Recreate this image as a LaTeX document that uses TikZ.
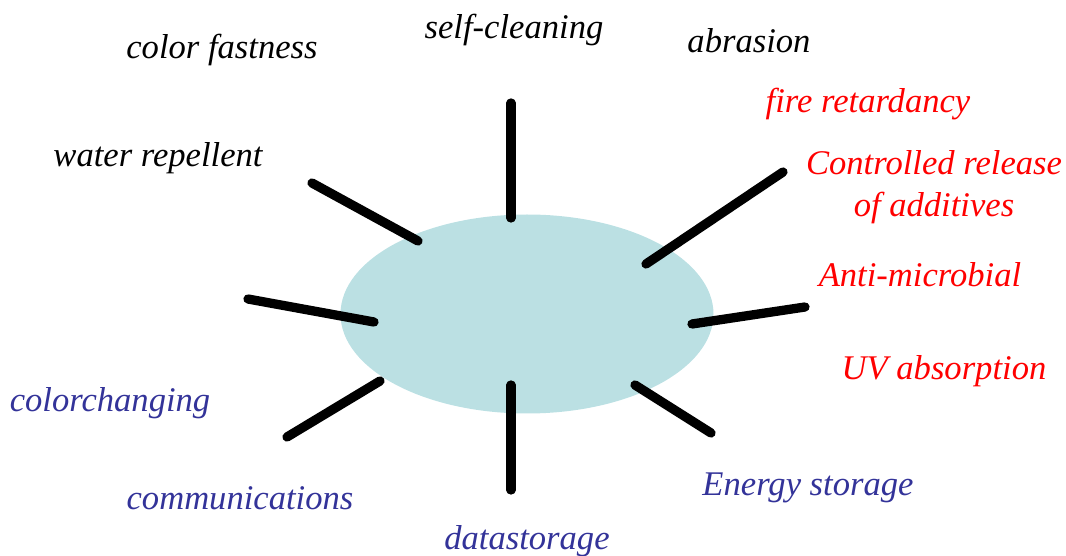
\documentclass[tikz,border=0pt]{standalone}
\usepackage{fontspec}
\setmainfont{Liberation Serif}
\usetikzlibrary{shapes.geometric}
\definecolor{blob}{HTML}{BBE0E3}
\definecolor{ink}{HTML}{333399}
\tikzset{
    spoke/.style={line width=6.6pt, line cap=round},
    lbl/.style={font=\fontsize{24.6}{29.5}\selectfont\itshape, align=center, inner sep=0pt}
}
\begin{document}
\begin{tikzpicture}[x=0.025cm,y=-0.025cm]
\useasboundingbox (0,0) rectangle (1066,556);

% the core
\node[ellipse, fill=blob, minimum width=373*0.025cm, minimum height=199*0.025cm, inner sep=0pt] (core) at (527,314) {};

% spokes
\foreach \n/\ax/\ay/\bx/\by in {t/511/218/511/103, tl/418/241/312/183, l/374/322/248/299,
    bl/380/381/287/437, b/511/385/511/490, br/635/385/711/433,
    r/692/324/805/307, tr/646/264/783/172} {
    \coordinate (in\n) at (\ax,\ay);
    \coordinate (out\n) at (\bx,\by);
    \draw[spoke] (in\n) -- (out\n);
}

% labels
\node[lbl] (fast) at (222,50) {color fastness};
\node[lbl] (clean) at (514,30) {self-cleaning};
\node[lbl] (abr) at (749,41) {abrasion};
\node[lbl] (water) at (158,158) {water repellent};
\node[lbl, red] (fire) at (868,104) {fire retardancy};
\node[lbl, red] (release) at (934,187) {Controlled release\\of additives};
\node[lbl, red] (micro) at (920,275) {Anti-microbial};
\node[lbl, red] (uv) at (944,371) {UV absorption};
\node[lbl, ink] (chg) at (110,403) {colorchanging};
\node[lbl, ink] (comm) at (240,498) {communications};
\node[lbl, ink] (energy) at (808,488) {Energy storage};
\node[lbl, ink] (data) at (527,541) {datastorage};
\end{tikzpicture}
\end{document}
